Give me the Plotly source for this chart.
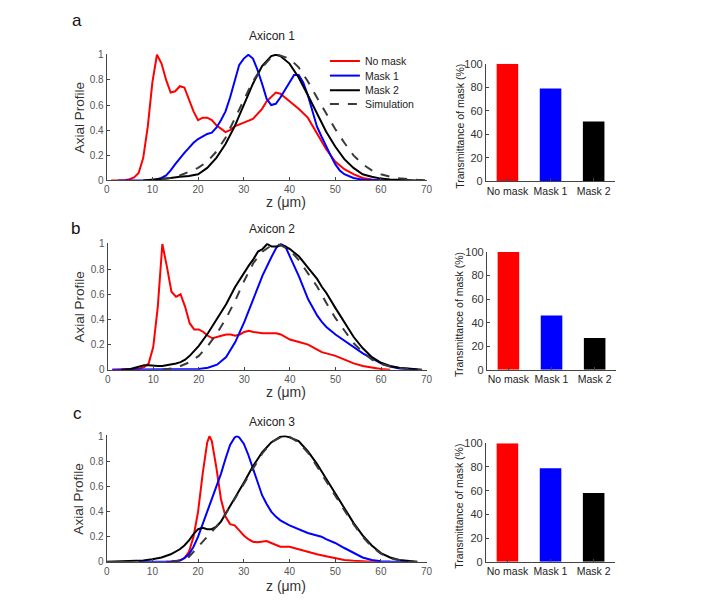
import plotly.graph_objects as go

# ---------------- data ----------------
# Panel a (Axicon 1)
z_a_nomask = [1, 4, 5, 6, 7, 8, 9, 10, 11, 12, 13, 14, 15, 16, 17, 18, 19, 20, 21, 22, 23, 24, 25, 26, 27, 28, 30, 32, 34, 35, 37, 38, 40, 42, 44, 45, 46, 48, 50, 52, 54, 56, 58, 60]
p_a_nomask = [0, 0.003, 0.01, 0.025, 0.06, 0.18, 0.43, 0.78, 1.0, 0.93, 0.8, 0.7, 0.71, 0.75, 0.74, 0.65, 0.55, 0.48, 0.5, 0.5, 0.48, 0.44, 0.41, 0.385, 0.4, 0.43, 0.46, 0.49, 0.57, 0.63, 0.70, 0.69, 0.63, 0.57, 0.5, 0.44, 0.37, 0.25, 0.15, 0.09, 0.05, 0.02, 0.008, 0]
z_a_mask1 = [2.5, 10, 11, 12, 13, 14, 15, 16, 17, 18, 19, 20, 21, 22, 23, 24, 25, 26, 27, 28, 29, 30, 31, 32, 33, 34, 35, 36, 37, 38, 39, 40, 41, 42, 43, 44, 45, 46, 47, 48, 49, 50, 51, 52, 54, 56, 58, 61]
p_a_mask1 = [0, 0.0, 0.01, 0.02, 0.04, 0.08, 0.13, 0.18, 0.22, 0.26, 0.3, 0.33, 0.35, 0.37, 0.38, 0.42, 0.48, 0.55, 0.66, 0.8, 0.92, 0.97, 1.0, 0.97, 0.88, 0.77, 0.65, 0.6, 0.61, 0.66, 0.72, 0.79, 0.84, 0.84, 0.78, 0.68, 0.55, 0.43, 0.35, 0.27, 0.2, 0.13, 0.08, 0.05, 0.02, 0.006, 0.002, 0]
z_a_mask2 = [8, 10, 12, 14, 16, 18, 20, 22, 24, 26, 28, 30, 32, 34, 36, 37, 38, 40, 42, 44, 46, 48, 50, 52, 54, 56, 58, 60, 62, 64, 66, 68]
p_a_mask2 = [0, 0.005, 0.01, 0.02, 0.03, 0.035, 0.05, 0.1, 0.18, 0.29, 0.43, 0.6, 0.77, 0.91, 0.99, 1.0, 0.99, 0.93, 0.82, 0.68, 0.53, 0.39, 0.27, 0.17, 0.1, 0.05, 0.03, 0.015, 0.007, 0.003, 0.001, 0]
z_a_sim = [12, 14, 16, 18, 20, 22, 24, 26, 28, 30, 32, 34, 36, 37.5, 40, 42, 44, 46, 48, 50, 52, 54, 56, 58, 60, 62, 64, 66, 68, 70]
p_a_sim = [0.01, 0.02, 0.04, 0.07, 0.1, 0.15, 0.23, 0.34, 0.49, 0.65, 0.79, 0.9, 0.98, 1.0, 0.97, 0.9, 0.79, 0.66, 0.53, 0.41, 0.3, 0.2, 0.13, 0.08, 0.05, 0.03, 0.018, 0.01, 0.005, 0.002]

# Panel b (Axicon 2)
z_b_nomask = [1, 5, 6, 7, 8, 9, 10, 11, 12, 13, 14, 15, 16, 17, 18, 19, 20, 21, 22, 23, 24, 25, 26, 27, 28, 29, 30, 31, 32, 34, 36, 37, 38, 39, 40, 42, 44, 46, 47, 48, 50, 52, 54, 56, 58, 60, 62]
p_b_nomask = [0, 0, 0.005, 0.01, 0.02, 0.05, 0.18, 0.5, 1.0, 0.82, 0.62, 0.58, 0.6, 0.5, 0.37, 0.32, 0.32, 0.3, 0.27, 0.25, 0.26, 0.27, 0.28, 0.28, 0.27, 0.28, 0.3, 0.31, 0.3, 0.29, 0.29, 0.29, 0.28, 0.26, 0.24, 0.22, 0.2, 0.16, 0.14, 0.13, 0.11, 0.08, 0.05, 0.03, 0.015, 0.005, 0]
z_b_mask1 = [1, 18, 20, 22, 24, 26, 28, 30, 32, 34, 36, 37, 38, 39, 40, 42, 44, 46, 47, 48, 50, 52, 54, 56, 58, 60, 62, 64, 66, 68]
p_b_mask1 = [0, 0, 0.005, 0.015, 0.04, 0.1, 0.22, 0.38, 0.57, 0.75, 0.9, 0.97, 1.0, 0.98, 0.9, 0.74, 0.56, 0.43, 0.38, 0.34, 0.28, 0.23, 0.18, 0.13, 0.09, 0.05, 0.025, 0.01, 0.003, 0]
z_b_mask2 = [3, 5, 6, 7, 8, 9, 10, 11, 12, 13, 14, 15, 16, 17, 18, 19, 20, 22, 24, 26, 28, 29, 30, 31, 32, 33, 34, 35, 36, 37, 38, 39, 40, 42, 44, 46, 47, 48, 50, 52, 54, 56, 58, 60, 62, 64, 66, 68, 69]
p_b_mask2 = [0, 0.005, 0.015, 0.025, 0.035, 0.035, 0.03, 0.03, 0.03, 0.035, 0.04, 0.05, 0.06, 0.08, 0.11, 0.15, 0.19, 0.29, 0.4, 0.52, 0.66, 0.72, 0.78, 0.83, 0.88, 0.94, 0.96, 1.0, 0.98, 0.98, 0.99, 0.98, 0.96, 0.9, 0.81, 0.72, 0.66, 0.61, 0.49, 0.37, 0.26, 0.17, 0.1, 0.055, 0.03, 0.015, 0.01, 0.005, 0]
z_b_sim = [12, 14, 16, 18, 20, 22, 24, 26, 28, 30, 32, 34, 36, 37, 38, 40, 42, 44, 46, 48, 50, 52, 54, 56, 58, 60, 62, 64, 66, 68]
p_b_sim = [0, 0.01, 0.03, 0.06, 0.11, 0.19, 0.29, 0.41, 0.55, 0.71, 0.85, 0.94, 0.99, 1.0, 0.99, 0.95, 0.87, 0.77, 0.66, 0.53, 0.41, 0.31, 0.21, 0.14, 0.08, 0.045, 0.025, 0.012, 0.006, 0.002]

# Panel c (Axicon 3)
z_c_nomask = [13, 14, 16, 17, 18, 19, 20, 21, 22, 22.5, 23, 24, 25, 26, 27, 28, 29, 30, 31, 32, 33, 34, 35, 36, 38, 40, 41, 42, 44, 46, 48, 50, 52, 54, 56, 58, 60]
p_c_nomask = [0, 0, 0.01, 0.03, 0.08, 0.2, 0.4, 0.7, 0.95, 1.0, 0.96, 0.75, 0.5, 0.36, 0.3, 0.29, 0.25, 0.21, 0.18, 0.16, 0.155, 0.16, 0.165, 0.15, 0.12, 0.12, 0.11, 0.1, 0.075, 0.06, 0.045, 0.03, 0.015, 0.008, 0.003, 0, 0]
z_c_mask1 = [7, 14, 16, 17, 18, 19, 20, 22, 24, 25, 26, 27, 28, 28.5, 29, 30, 31, 32, 33, 34, 35, 36, 37, 38, 40, 42, 44, 46, 47, 48, 50, 52, 54, 56, 58, 60, 62, 66]
p_c_mask1 = [0, 0, 0.01, 0.03, 0.06, 0.12, 0.2, 0.4, 0.6, 0.7, 0.82, 0.93, 0.99, 1.0, 0.99, 0.94, 0.85, 0.74, 0.63, 0.53, 0.46, 0.4, 0.36, 0.33, 0.29, 0.26, 0.23, 0.21, 0.2, 0.18, 0.15, 0.11, 0.07, 0.035, 0.015, 0.005, 0.002, 0]
z_c_mask2 = [0, 4, 6, 8, 10, 12, 14, 15, 16, 17, 18, 19, 20, 21, 22, 23, 24, 25, 26, 28, 30, 32, 34, 36, 38, 39, 40, 42, 44, 46, 48, 50, 52, 54, 56, 58, 60, 62, 64, 66, 68]
p_c_mask2 = [0, 0.002, 0.005, 0.01, 0.02, 0.035, 0.06, 0.08, 0.1, 0.13, 0.17, 0.22, 0.26, 0.27, 0.26, 0.26, 0.28, 0.32, 0.38, 0.5, 0.63, 0.76, 0.87, 0.95, 0.995, 1.0, 0.99, 0.96, 0.88, 0.78, 0.66, 0.55, 0.43, 0.31, 0.21, 0.13, 0.07, 0.035, 0.015, 0.005, 0]
z_c_sim = [14, 16, 18, 20, 22, 24, 26, 28, 30, 32, 34, 36, 38, 39, 40, 42, 44, 46, 48, 50, 52, 54, 56, 58, 60, 62, 64, 66, 67]
p_c_sim = [0, 0.01, 0.04, 0.12, 0.2, 0.28, 0.38, 0.5, 0.62, 0.75, 0.86, 0.95, 0.99, 1.0, 0.995, 0.95, 0.87, 0.76, 0.64, 0.53, 0.41, 0.3, 0.2, 0.12, 0.065, 0.03, 0.012, 0.004, 0]

# Transmittance bars
bar_categories = ["No mask", "Mask 1", "Mask 2"]
trans_a = [100, 79, 51]
trans_b = [100, 46, 27]
trans_c = [100, 79, 58]

series_names = ["No mask", "Mask 1", "Mask 2", "Simulation"]
titles = ["Axicon 1", "Axicon 2", "Axicon 3"]
panel_letters = ["a", "b", "c"]
y_ticks = [0, 0.2, 0.4, 0.6, 0.8, 1]
y_ticktext = ["0", "0.2", "0.4", "0.6", "0.8", "1"]
x_ticks = [0, 10, 20, 30, 40, 50, 60, 70]
bar_ticks = [0, 20, 40, 60, 80, 100]

# ---------------- styling ----------------
W, H = 717, 610
FONT = "Arial, Liberation Sans, sans-serif"
colors = ["#ff0000", "#0000ff", "#000000", "#3a3a3a"]
dashes = ["solid", "solid", "solid", "dash"]
AXC = "#444444"
TICKC = "#555555"

def px_x(p):
    return p / W

def px_y(p):
    return 1 - p / H

# pixel boxes (left, right, top, bottom)
line_boxes = [(105, 429, 49, 178), (106, 429, 242, 371), (105, 429, 438, 567)]
bar_boxes = [(489, 620, 59, 179), (490, 621, 251, 371), (489, 620, 446, 567)]
legend_rows_y = [56, 71, 86, 100]
legend_names = ["legend", "legend2", "legend3", "legend4"]

panels = [
    [(z_a_nomask, p_a_nomask), (z_a_mask1, p_a_mask1), (z_a_mask2, p_a_mask2), (z_a_sim, p_a_sim)],
    [(z_b_nomask, p_b_nomask), (z_b_mask1, p_b_mask1), (z_b_mask2, p_b_mask2), (z_b_sim, p_b_sim)],
    [(z_c_nomask, p_c_nomask), (z_c_mask1, p_c_mask1), (z_c_mask2, p_c_mask2), (z_c_sim, p_c_sim)],
]
trans = [trans_a, trans_b, trans_c]

fig = go.Figure()
layout = dict(
    width=W, height=H, margin=dict(l=0, r=0, t=0, b=0),
    paper_bgcolor="white", plot_bgcolor="white",
    font=dict(family=FONT, color="#222222"),
    showlegend=True,
)
for k, ln in enumerate(legend_names):
    layout[ln] = dict(x=px_x(326), y=px_y(legend_rows_y[k]), xanchor="left",
                      yanchor="middle", bgcolor="rgba(0,0,0,0)",
                      font=dict(size=10.5, color="#222222"), itemwidth=30)
annotations = []

for i in range(3):
    lx = 2 * i + 1
    bx = 2 * i + 2
    lxn = "" if lx == 1 else str(lx)
    bxn = str(bx)
    l, r, t, b = line_boxes[i]
    for k, (zz, pp) in enumerate(panels[i]):
        fig.add_trace(go.Scatter(
            x=zz, y=pp, mode="lines", name=series_names[k],
            line=dict(color=colors[k], width=2, dash=dashes[k]),
            xaxis="x" + lxn, yaxis="y" + lxn, showlegend=(i == 0),
            legend=legend_names[k],
        ))
    axis_common = dict(showline=True, linecolor=AXC, linewidth=1, ticks="inside",
                       ticklen=3, tickcolor=AXC, showgrid=False, zeroline=False,
                       tickfont=dict(size=10, color=TICKC), mirror=False)
    layout["xaxis" + lxn] = dict(domain=[px_x(l), px_x(r)], range=[0, 70],
                                 anchor="y" + lxn, tickvals=x_ticks, **axis_common)
    layout["yaxis" + lxn] = dict(domain=[px_y(b), px_y(t)], range=[0, 1.006],
                                 anchor="x" + lxn, tickvals=y_ticks,
                                 ticktext=y_ticktext, **axis_common)

    bl, br, bt, bb = bar_boxes[i]
    fig.add_trace(go.Bar(
        x=bar_categories, y=trans[i], width=0.5,
        marker=dict(color=colors[:3], line=dict(width=0)),
        xaxis="x" + bxn, yaxis="y" + bxn, showlegend=False,
    ))
    layout["xaxis" + bxn] = dict(domain=[px_x(bl), px_x(br)], range=[-0.5, 2.5],
                                 anchor="y" + bxn, type="category",
                                 showline=True, linecolor=AXC, ticks="inside",
                                 ticklen=3, tickcolor=AXC, showgrid=False,
                                 tickfont=dict(size=10.5, color="#222222"))
    layout["yaxis" + bxn] = dict(domain=[px_y(bb), px_y(bt)], range=[0, 100],
                                 anchor="x" + bxn, tickvals=bar_ticks,
                                 showline=True, linecolor=AXC, ticks="inside",
                                 ticklen=3, tickcolor=AXC, showgrid=False,
                                 zeroline=False,
                                 tickfont=dict(size=11, color="#333333"))

    # text
    title_y = [31, 227, 424][i]
    letter_xy = [(75, 15), (73, 227), (75, 416)][i]
    xlabel_y = [200, 394, 592][i]
    annotations += [
        dict(text=titles[i], x=px_x(272), y=px_y(title_y), xref="paper", yref="paper",
             showarrow=False, font=dict(size=12, color="#222222"),
             xanchor="center", yanchor="middle"),
        dict(text=panel_letters[i], x=px_x(letter_xy[0]), y=px_y(letter_xy[1]),
             xref="paper", yref="paper", showarrow=False,
             font=dict(size=17, color="#111111"), xanchor="center", yanchor="middle"),
        dict(text="z (μm)", x=px_x(287), y=px_y(xlabel_y), xref="paper", yref="paper",
             showarrow=False, font=dict(size=14, color="#333333"),
             xanchor="center", yanchor="middle"),
        dict(text="Axial Profile", x=px_x(77), y=px_y((t + b) / 2 + 1), xref="paper",
             yref="paper", showarrow=False, textangle=-90,
             font=dict(size=13.5, color="#333333"), xanchor="center", yanchor="middle"),
        dict(text="Transmittance of mask (%)", x=px_x(462), y=px_y((bt + bb) / 2 + 4),
             xref="paper", yref="paper", showarrow=False, textangle=-90,
             font=dict(size=10.5, color="#222222"), xanchor="center", yanchor="middle"),
    ]

layout["annotations"] = annotations
fig.update_layout(**layout)
fig.write_html(
    "out.html",
    config={"displayModeBar": False},
    post_script="document.body.style.margin='0';document.body.style.overflow='hidden';",
)
